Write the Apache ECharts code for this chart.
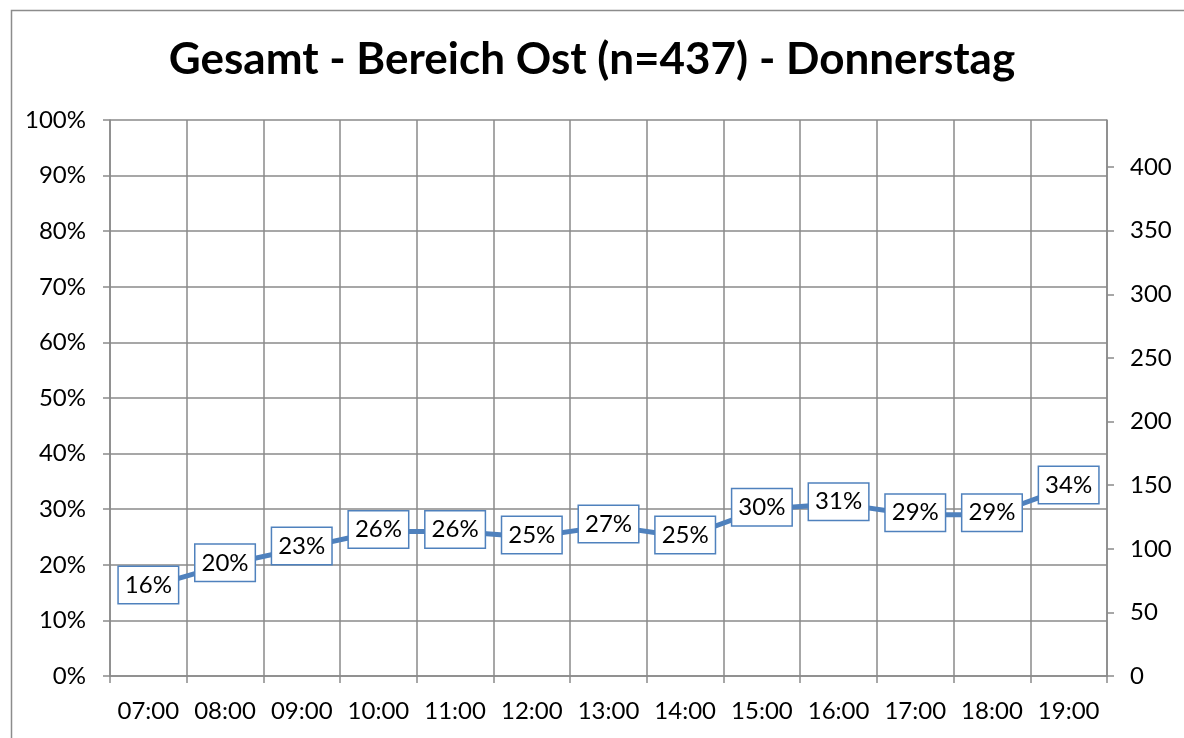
<!DOCTYPE html>
<html>
<head>
<meta charset="utf-8">
<script src="https://cdn.jsdelivr.net/npm/echarts@6/dist/echarts.min.js"></script>
<style>html,body{margin:0;padding:0;background:#fff}#c{width:1184px;height:738px}</style>
</head>
<body>
<div id="c"></div>
<script>
var categories = ['07:00','08:00','09:00','10:00','11:00','12:00','13:00','14:00','15:00','16:00','17:00','18:00','19:00'];
var shareValues = [0.16,0.20,0.23,0.26,0.26,0.25,0.27,0.25,0.30,0.31,0.29,0.29,0.34];
var rightTicks = [0,50,100,150,200,250,300,350,400];
var rightMax = 437;
var titleText = 'Gesamt - Bereich Ost (n=437) - Donnerstag';

var FONT = 'Lato';
var gridColor = '#8a8a8a';
var chart = echarts.init(document.getElementById('c'));
chart.setOption({
  animation: false,
  graphic: [{
    type: 'rect', left: 9, top: 8, shape: {width: 1200, height: 800},
    style: {fill: 'none', stroke: '#8c8c8c', lineWidth: 1.5}, silent: true
  }],
  title: {
    text: titleText, left: 'center', top: 33,
    textStyle: {fontFamily: FONT, fontSize: 44, fontWeight: 'bold', color: '#000'}
  },
  grid: {left: 110, right: 77, top: 120, bottom: 62},
  xAxis: {
    type: 'category', data: categories, boundaryGap: true,
    axisLine: {lineStyle: {color: gridColor, width: 1.5}},
    axisTick: {show: true, length: 7, interval: 0, lineStyle: {color: gridColor, width: 1.5}},
    splitLine: {show: true, interval: 0, lineStyle: {color: gridColor, width: 1.5}},
    axisLabel: {fontFamily: FONT, fontSize: 24, color: '#000', margin: 23, interval: 0}
  },
  yAxis: [{
    type: 'value', min: 0, max: 1, interval: 0.1, position: 'left',
    axisLine: {show: true, lineStyle: {color: gridColor, width: 1.5}},
    axisTick: {show: true, length: 7, lineStyle: {color: gridColor, width: 1.5}},
    splitLine: {show: true, lineStyle: {color: gridColor, width: 1.5}},
    axisLabel: {fontFamily: FONT, fontSize: 24, color: '#000', margin: 24,
      formatter: function (v) { return Math.round(v * 100) + '%'; }}
  }, {
    type: 'value', min: 0, max: rightMax, interval: 50, position: 'right',
    axisLine: {show: true, lineStyle: {color: gridColor, width: 1.5}},
    axisTick: {show: true, length: 7, customValues: rightTicks, lineStyle: {color: gridColor, width: 1.5}},
    splitLine: {show: false},
    axisLabel: {fontFamily: FONT, fontSize: 24, color: '#000', margin: 23, customValues: rightTicks}
  }],
  series: [{
    type: 'line', data: shareValues, yAxisIndex: 0,
    showSymbol: true, symbol: 'circle', symbolSize: 1,
    itemStyle: {color: '#4F81BD'},
    lineStyle: {color: '#4F81BD', width: 5},
    label: {
      show: true, position: 'inside', offset: [0, -2],
      formatter: function (p) { return Math.round(p.value * 100) + '%'; },
      fontFamily: FONT, fontSize: 24, color: '#000',
      backgroundColor: '#fff', borderColor: '#4F81BD', borderWidth: 1.5,
      padding: [7, 6, 5, 6]
    }
  }]
});
</script>
</body>
</html>
